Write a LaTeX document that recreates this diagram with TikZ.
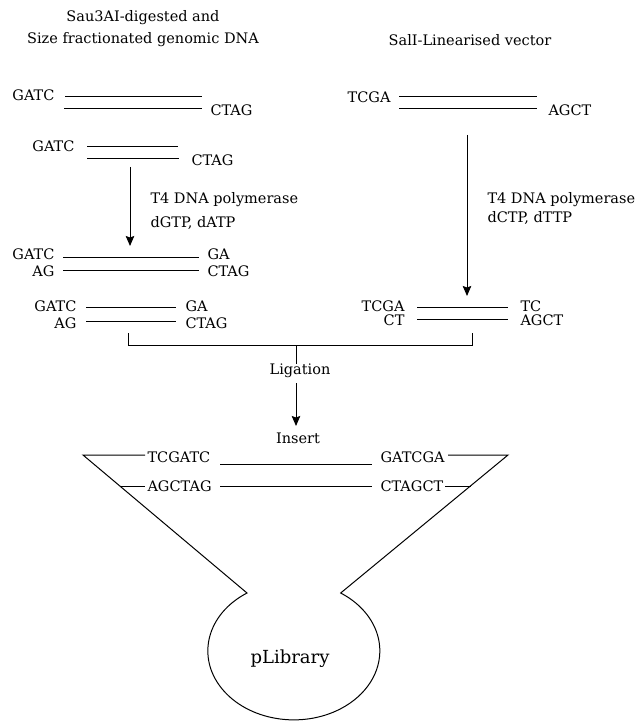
\documentclass[tikz,border=0pt]{standalone}
\usepackage{fontspec}
\setmainfont{DejaVu Serif}
\usetikzlibrary{arrows.meta}
\begin{document}
\begin{tikzpicture}[x=1pt,y=-1pt,
  font=\fontsize{14.5}{17}\selectfont,
  line width=1pt,
  lab/.style={inner sep=0pt},
  lw/.style={lab,anchor=west},
  le/.style={lab,anchor=east},
  arr/.style={-{Stealth[length=10pt,width=8.5pt,inset=1.5pt]}}]
\useasboundingbox (0,0) rectangle (638,722);
% titles
\node[lab] (t1) at (143,18) {Sau3AI-digested and};
\node[lab] (t2) at (143,40) {Size fractionated genomic DNA};
\node[lab] (t3) at (470,40) {SalI-Linearised vector};
% left strand 1
\node[le] (a1) at (55,95) {GATC};
\node[lw] (a2) at (210,110) {CTAG};
\draw (65,97) -- (202,97);
\draw (64,109) -- (202,109);
% left strand 2
\node[le] (b1) at (75,146) {GATC};
\node[lw] (b2) at (191,160) {CTAG};
\draw (87,147) -- (178,147);
\draw (87,159) -- (179,159);
% left arrow
\coordinate (la1) at (130,167);
\coordinate (la2) at (130,246);
\draw[arr] (la1) -- (la2);
\node[lw] (lt1) at (150,200) {T4 DNA polymerase};
\node[lw] (lt2) at (150,223) {dGTP, dATP};
% left strand 3
\node[le] (c1) at (55,254) {GATC};
\node[lw] (c2) at (207,254) {GA};
\node[le] (c3) at (55,271) {AG};
\node[lw] (c4) at (207,271) {CTAG};
\draw (63,257) -- (199,257);
\draw (63,270) -- (199,270);
% left strand 4
\node[le] (d1) at (77,306) {GATC};
\node[lw] (d2) at (185,306) {GA};
\node[le] (d3) at (77,323) {AG};
\node[lw] (d4) at (185,323) {CTAG};
\draw (86,307) -- (176,307);
\draw (86,321) -- (176,321);
% right strand 1
\node[le] (e1) at (391,97) {TCGA};
\node[lw] (e2) at (548,110) {AGCT};
\draw (399,97) -- (537,97);
\draw (399,109) -- (537,109);
% right arrow
\coordinate (ra1) at (467,135);
\coordinate (ra2) at (467,296);
\draw[arr] (ra1) -- (ra2);
\node[lw] (rt1) at (487,200) {T4 DNA polymerase};
\node[lw] (rt2) at (487,218) {dCTP, dTTP};
% right strand 2
\node[le] (f1) at (405,306) {TCGA};
\node[lw] (f2) at (520,306) {TC};
\node[le] (f3) at (405,320) {CT};
\node[lw] (f4) at (520,320) {AGCT};
\draw (417,307) -- (508,307);
\draw (417,319) -- (508,319);
% bracket
\coordinate (bl) at (128,333);
\coordinate (br) at (472,333);
\coordinate (bm) at (296,345);
\draw (bl) -- (128,345) -- (472,345) -- (br);
\node[lab] (lig) at (300,371) {Ligation};
\draw (bm) -- (bm |- lig.north);
\node[lab] (ins) at (298,438) {Insert};
\draw[arr] (296,383) -- (296,426);
% vector with insert
\node[lw] (g1) at (147,457) {TCGATC};
\node[lw] (g2) at (380,457) {GATCGA};
\node[lw] (g3) at (147,486) {AGCTAG};
\node[lw] (g4) at (380,486) {CTAGCT};
\draw (220,464) -- (372,464);
\draw (220,486) -- (372,486);
\draw (145,455) -- (83,455) -- (247,593)
  arc[start angle=237, end angle=-57, x radius=86, y radius=69]
  -- (508,455) -- (448,455);
\draw (120,486) -- (145,486);
\draw (445,486) -- (470.5,486);
\node[lab,font=\fontsize{18}{21}\selectfont] (plib) at (290,659) {pLibrary};
\end{tikzpicture}
\end{document}
